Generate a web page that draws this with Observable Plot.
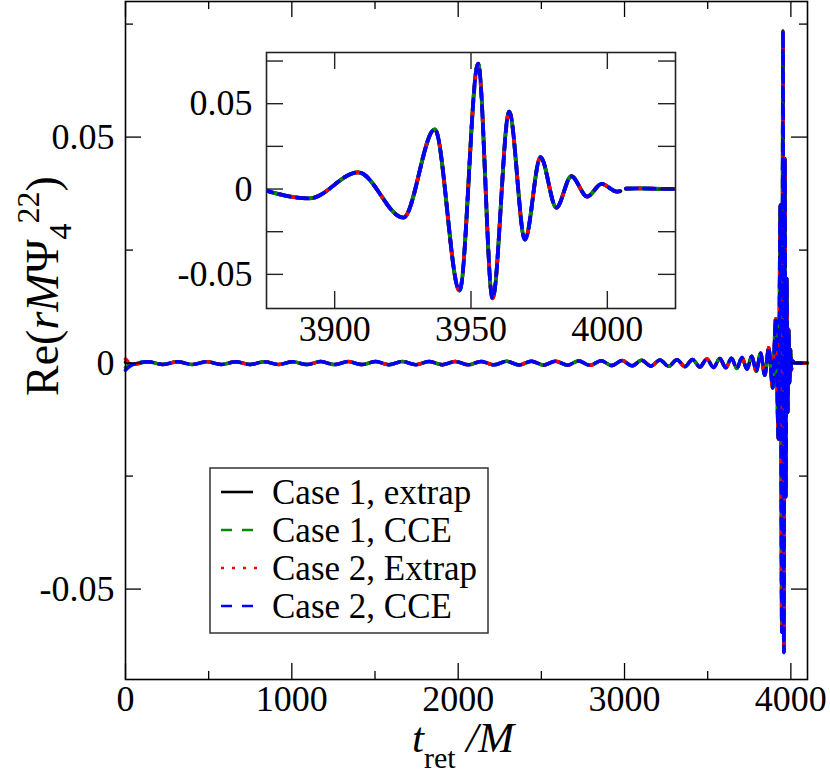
<!DOCTYPE html>
<html>
<head>
<meta charset="utf-8">
<script src="https://cdn.jsdelivr.net/npm/d3@7"></script>
<script src="https://cdn.jsdelivr.net/npm/@observablehq/plot@0.6"></script>
<style>
html, body { margin: 0; padding: 0; background: #ffffff; }
#wrap { position: relative; width: 830px; height: 775px; overflow: hidden; background: #ffffff; }
#wrap > svg { position: absolute; }
#wrap text, #wrap tspan { font-family: "Liberation Serif", "Times New Roman", Times, "DejaVu Serif", serif; }
</style>
</head>
<body>
<div id="wrap"></div>
<script>
// ---------------- DATA ----------------
const seriesNames  = ["Case 1, extrap", "Case 1, CCE", "Case 2, Extrap", "Case 2, CCE"];
const seriesColors = ["#000000", "#008c00", "#ff0000", "#0000ff"];
const seriesDash   = [null, "11,7", "3,9", "11,7"];
const seriesDashOffset = [0, 5, 0, 0];
// value at t = 0 (initial junk) for each series
const startValues  = [0.0002, -0.0010, 0.0009, -0.0016];

// extrema of Re(rMΨ4^22) (t_ret/M)
const waveT = [45,135,224,313,401,489,576,663,749,835,920,1005,1089,1173,1256,1339,1421,1503,1584,1665,
  1745,1825,1904,1983,2061,2138,2215,2291,2366,2440,2513,2585,2656,2725,2793,2859,2923,2985,3045,3103,
  3159,3213,3265,3315,3363,3409,3453,3495,3535,3573,3609,3643,3675,3706,3736,3765,3792,3818,3843,3867,
  3890.7,3908.6,3925.2,3936.7,3945.8,3952.6,3957.9,3964.0,3969.8,3975.5,3981.3,3986.8,3992.6,3997.9,
  4003.5,4004.8,4005.5,4006.8,4012,4020,4030,4100];
const waveV = [-0.0003,0.0003,-0.0003,0.0003,-0.0003,0.0003,-0.0003,0.0003,-0.0003,0.0003,-0.0003,0.0003,
  -0.00033,0.00033,-0.00033,0.00033,-0.00033,0.00033,-0.00035,0.00035,-0.00035,0.00035,-0.00035,0.00035,
  -0.00038,0.00038,-0.00038,0.0004,-0.0004,0.0004,-0.00042,0.00042,-0.00045,0.00047,-0.0005,0.00052,
  -0.00054,0.00056,-0.0006,0.00062,-0.00065,0.00068,-0.00071,0.00075,-0.00078,0.00082,-0.00086,0.0009,
  -0.00095,0.001,-0.00105,0.0011,-0.00117,0.00125,-0.00135,0.0015,-0.0018,0.0022,-0.0027,0.0034,
  -0.0055,0.0098,-0.0168,0.035,-0.0595,0.0735,-0.064,0.0453,-0.0296,0.0187,-0.0109,0.0075,-0.0044,0.003,
  -0.0015,-0.0012,NaN,0.0002,0.0004,0.0001,0,0];

// axes
const xDomain = [0, 4100], yDomain = [-0.07, 0.08];
const xMajor = [0, 1000, 2000, 3000, 4000];
const xMajorLabels = ["0", "1000", "2000", "3000", "4000"];
const xMinor = [500, 1500, 2500, 3500];
const yMajor = [-0.05, 0, 0.05];
const yMajorLabels = ["-0.05", "0", "0.05"];
const yMinor = [-0.025, 0.025, 0.075];

const insetXDomain = [3875, 4025], insetYDomain = [-0.07, 0.08];
const insetXTicks = [3900, 3950, 4000];
const insetXLabels = ["3900", "3950", "4000"];
const insetYTicks = [-0.05, -0.025, 0, 0.025, 0.05, 0.075];
const insetYLabelVals = [-0.05, 0, 0.05];
const insetYLabels = ["-0.05", "0", "0.05"];

// ---------------- BUILD ----------------
const FONT = '"Liberation Serif", "Times New Roman", Times, "DejaVu Serif", serif';
const TICK_FS = 36;
const rows = seriesNames.map((name, s) =>
  [{t: 0, v: startValues[s]}].concat(waveT.map((t, i) => ({t, v: waveV[i]}))));

function seriesLines(data, width, clip) {
  return seriesNames.map((name, s) => Plot.line(data[s], {
    x: "t", y: "v", curve: "monotone-x", stroke: seriesColors[s], strokeWidth: width,
    strokeDasharray: seriesDash[s] || undefined, strokeDashoffset: seriesDashOffset[s],
    clip: clip
  }));
}

const wrap = document.getElementById("wrap");

// main plot
const W = 830, H = 775, ML = 125, MR = 23, MT = 1, MB = 96;
const innerW = W - ML - MR, innerH = H - MT - MB;
const MAJ = 16, MIN = 8;
const main = Plot.plot({
  width: W, height: H, marginLeft: ML, marginRight: MR, marginTop: MT, marginBottom: MB,
  x: {domain: xDomain, axis: null},
  y: {domain: yDomain, axis: null},
  style: {background: "transparent", color: "black", overflow: "visible"},
  marks: [
    ...seriesLines(rows, 3.5, false),
    Plot.ruleX(xMajor, {x: d => d, insetTop: innerH - MAJ, stroke: "black", strokeWidth: 1.3}),
    Plot.ruleX(xMajor, {x: d => d, insetBottom: innerH - MAJ, stroke: "black", strokeWidth: 1.3}),
    Plot.ruleX(xMinor, {x: d => d, insetTop: innerH - MIN, stroke: "black", strokeWidth: 1.3}),
    Plot.ruleX(xMinor, {x: d => d, insetBottom: innerH - MIN, stroke: "black", strokeWidth: 1.3}),
    Plot.ruleY(yMajor, {y: d => d, insetRight: innerW - MAJ, stroke: "black", strokeWidth: 1.3}),
    Plot.ruleY(yMajor, {y: d => d, insetLeft: innerW - MAJ, stroke: "black", strokeWidth: 1.3}),
    Plot.ruleY(yMinor, {y: d => d, insetRight: innerW - MIN, stroke: "black", strokeWidth: 1.3}),
    Plot.ruleY(yMinor, {y: d => d, insetLeft: innerW - MIN, stroke: "black", strokeWidth: 1.3}),
    Plot.frame({stroke: "black", strokeWidth: 1.6}),
    Plot.text(xMajor, {x: d => d, y: yDomain[0], text: (d, i) => xMajorLabels[i], lineAnchor: "top",
      dy: 6, fontSize: TICK_FS, fontFamily: FONT, fill: "black"}),
    Plot.text(yMajor, {x: xDomain[0], y: d => d, text: (d, i) => yMajorLabels[i], textAnchor: "end",
      dx: -11, fontSize: TICK_FS, fontFamily: FONT, fill: "black"})
  ]
});
main.style.left = "0px"; main.style.top = "0px";
wrap.appendChild(main);

// inset plot
const IW = 560, IH = 330, IML = 116, IMR = 35, IMT = 22, IMB = 52;
const iInnerW = IW - IML - IMR, iInnerH = IH - IMT - IMB;
const ITK = 17;
const insetRows = rows.map(r => r.filter(d => d.t >= 3860 && d.t <= 4040));
const inset = Plot.plot({
  width: IW, height: IH, marginLeft: IML, marginRight: IMR, marginTop: IMT, marginBottom: IMB,
  x: {domain: insetXDomain, axis: null},
  y: {domain: insetYDomain, axis: null},
  style: {background: "transparent", color: "black", overflow: "visible"},
  marks: [
    Plot.frame({fill: "white", stroke: "none"}),
    ...seriesLines(insetRows, 3.8, true),
    Plot.ruleX(insetXTicks, {x: d => d, insetTop: iInnerH - ITK, stroke: "#222", strokeWidth: 1.4}),
    Plot.ruleX(insetXTicks, {x: d => d, insetBottom: iInnerH - ITK, stroke: "#222", strokeWidth: 1.4}),
    Plot.ruleY(insetYTicks, {y: d => d, insetRight: iInnerW - ITK, stroke: "#222", strokeWidth: 1.4}),
    Plot.ruleY(insetYTicks, {y: d => d, insetLeft: iInnerW - ITK, stroke: "#222", strokeWidth: 1.4}),
    Plot.frame({stroke: "#222", strokeWidth: 1.6}),
    Plot.text(insetXTicks, {x: d => d, y: insetYDomain[0], text: (d, i) => insetXLabels[i], lineAnchor: "top",
      dy: 7, fontSize: TICK_FS, fontFamily: FONT, fill: "black"}),
    Plot.text(insetYLabelVals, {x: insetXDomain[0], y: d => d, text: (d, i) => insetYLabels[i], textAnchor: "end",
      dx: -14, fontSize: TICK_FS, fontFamily: FONT, fill: "black"})
  ]
});
inset.style.left = "150px"; inset.style.top = "30px";
wrap.appendChild(inset);

// overlay: axis titles and legend
const ov = d3.select(wrap).append("svg")
  .attr("width", W).attr("height", H)
  .style("left", "0px").style("top", "0px");

// y axis title
const yt = ov.append("text")
  .attr("transform", "translate(58,396) rotate(-90)")
  .attr("font-size", 46).attr("fill", "black");
yt.append("tspan").text("Re(");
yt.append("tspan").attr("font-style", "italic").text("rM");
yt.append("tspan").text("Ψ");
yt.append("tspan").attr("font-size", 32).attr("dy", 13).text("4");
yt.append("tspan").attr("font-size", 32).attr("dy", -32).text("22");
yt.append("tspan").attr("dy", 19).text(")");

// x axis title
const xt = ov.append("text").attr("x", 412).attr("y", 752).attr("font-size", 43).attr("fill", "black");
xt.append("tspan").attr("font-style", "italic").text("t");
xt.append("tspan").attr("font-size", 30).attr("dy", 16).text("ret");
xt.append("tspan").attr("dy", -16).attr("font-style", "italic").text(" /M");

// legend
const LX = 210, LY = 468, LW = 278, LH = 165;
ov.append("rect").attr("x", LX).attr("y", LY).attr("width", LW).attr("height", LH)
  .attr("fill", "white").attr("stroke", "#333").attr("stroke-width", 1.5);
const rowY = [492, 530, 568, 606];
seriesNames.forEach((name, s) => {
  const isDot = seriesDash[s] === "3,9";
  const ln = ov.append("line").attr("x1", 221).attr("x2", isDot ? 257 : 253)
    .attr("y1", rowY[s]).attr("y2", rowY[s])
    .attr("stroke", seriesColors[s]).attr("stroke-width", 2.6);
  if (seriesDash[s]) ln.attr("stroke-dasharray", isDot ? "3,8" : "11,10");
  ov.append("text").attr("x", 272).attr("y", rowY[s]).attr("dy", "0.35em")
    .attr("font-size", 35).attr("fill", "black").text(name);
});
</script>
</body>
</html>
